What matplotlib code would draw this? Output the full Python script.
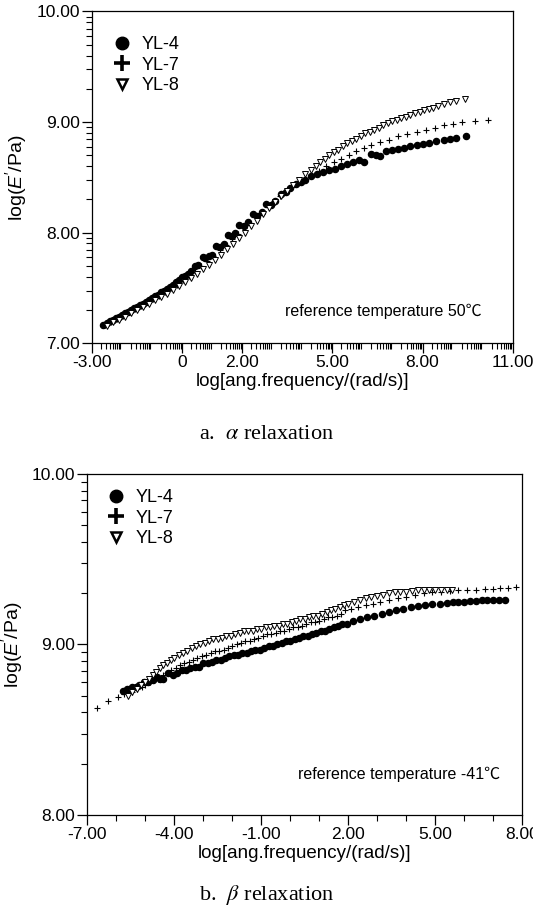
import numpy as np
import matplotlib
matplotlib.use("Agg")
import matplotlib.pyplot as plt
from matplotlib.lines import Line2D

plt.rcParams['font.family'] = ['Liberation Sans', 'Noto Sans CJK SC', 'DejaVu Sans']
plt.rcParams['mathtext.fontset'] = 'custom'
plt.rcParams['mathtext.rm'] = 'Liberation Sans'
plt.rcParams['mathtext.it'] = 'Liberation Sans:italic'

# ---- panel a: alpha relaxation (reference temperature 50 C) ----
a_yl4_x = [-2.62, -2.5, -2.4, -2.3, -2.2, -2.1, -2.0, -1.9, -1.8, -1.7, -1.6, -1.5, -1.4, -1.3,
           -1.2, -1.1, -1.0, -0.9, -0.8, -0.7, -0.6, -0.5, -0.4, -0.3, -0.2, -0.1, 0.0, 0.1,
           0.2, 0.3, 0.42, 0.55, 0.7, 0.78, 0.9, 1.0, 1.12, 1.25, 1.4, 1.52, 1.65, 1.78, 1.9,
           2.05, 2.2, 2.38, 2.5, 2.65, 2.8, 2.95, 3.1, 3.3, 3.45, 3.6, 3.8, 3.95, 4.1, 4.3,
           4.5, 4.7, 4.9, 5.1, 5.3, 5.5, 5.7, 5.9, 6.05, 6.3, 6.45, 6.6, 6.8, 7.0, 7.2, 7.4,
           7.6, 7.8, 8.0, 8.2, 8.45, 8.7, 8.9, 9.1, 9.45]
a_yl4_y = [7.17, 7.185, 7.20, 7.21, 7.225, 7.24, 7.255, 7.27, 7.285, 7.30, 7.315, 7.33, 7.345, 7.36,
           7.375, 7.39, 7.41, 7.425, 7.44, 7.46, 7.475, 7.495, 7.51, 7.53, 7.55, 7.57, 7.60, 7.61,
           7.63, 7.655, 7.70, 7.71, 7.78, 7.77, 7.79, 7.80, 7.88, 7.87, 7.90, 7.98, 7.97, 8.00, 8.07,
           8.06, 8.10, 8.17, 8.15, 8.19, 8.26, 8.25, 8.29, 8.35, 8.37, 8.40, 8.44, 8.46, 8.48, 8.51,
           8.53, 8.55, 8.57, 8.58, 8.60, 8.62, 8.64, 8.66, 8.64, 8.71, 8.70, 8.69, 8.74, 8.75, 8.76, 8.77,
           8.78, 8.79, 8.80, 8.81, 8.83, 8.84, 8.845, 8.86, 8.87]

a_yl7_x = [-2.55, -2.35, -2.15, -1.95, -1.75, -1.55, -1.35, -1.15, -0.95, -0.75, -0.55, -0.35, -0.15,
           0.05, 0.25, 0.45, 0.65, 0.85, 1.05, 1.25, 1.45, 1.65, 1.85, 2.05, 2.25, 2.45, 2.65, 2.85,
           3.05, 3.25, 3.45, 3.65, 3.85, 4.05, 4.3, 4.55, 4.8, 5.05, 5.3, 5.55, 5.8, 6.05, 6.3, 6.6,
           6.9, 7.2, 7.5, 7.8, 8.1, 8.4, 8.7, 9.0, 9.3, 9.75, 10.19]
a_yl7_y = [7.17, 7.19, 7.22, 7.25, 7.28, 7.31, 7.34, 7.37, 7.40, 7.43, 7.46, 7.50, 7.53,
           7.57, 7.61, 7.65, 7.70, 7.74, 7.79, 7.84, 7.89, 7.94, 7.99, 8.04, 8.09, 8.14, 8.19, 8.24,
           8.29, 8.33, 8.37, 8.41, 8.45, 8.48, 8.52, 8.56, 8.60, 8.64, 8.67, 8.70, 8.74, 8.77, 8.79, 8.82,
           8.84, 8.87, 8.89, 8.91, 8.93, 8.95, 8.97, 8.98, 9.00, 9.01, 9.02]

a_yl8_x = [-2.5, -2.3, -2.1, -1.9, -1.7, -1.5, -1.3, -1.1, -0.9, -0.7, -0.5, -0.3, -0.1, 0.1, 0.3,
           0.5, 0.7, 0.9, 1.1, 1.3, 1.5, 1.7, 1.9, 2.1, 2.3, 2.5, 2.7, 2.9, 3.1, 3.3, 3.5, 3.7, 3.9,
           4.1, 4.3, 4.45, 4.6, 4.75, 4.9, 5.05, 5.2, 5.35, 5.5, 5.65, 5.8, 5.95, 6.1, 6.25, 6.4,
           6.55, 6.7, 6.85, 7.0, 7.15, 7.3, 7.45, 7.6, 7.75, 7.9, 8.05, 8.2, 8.35, 8.5, 8.7, 8.9,
           9.1, 9.4]
a_yl8_y = [7.16, 7.19, 7.21, 7.24, 7.27, 7.30, 7.33, 7.36, 7.39, 7.42, 7.45, 7.48, 7.52, 7.55, 7.59,
           7.63, 7.67, 7.71, 7.75, 7.80, 7.85, 7.90, 7.95, 8.00, 8.06, 8.11, 8.17, 8.22, 8.28, 8.33, 8.38,
           8.43, 8.48, 8.53, 8.57, 8.60, 8.64, 8.67, 8.70, 8.73, 8.75, 8.78, 8.81, 8.83, 8.85, 8.87,
           8.90, 8.91, 8.93, 8.95, 8.97, 8.99, 9.01, 9.02, 9.04, 9.05, 9.06, 9.08, 9.09, 9.11, 9.12,
           9.13, 9.15, 9.16, 9.18, 9.19, 9.21]

# ---- panel b: beta relaxation (reference temperature -41 C), (x, y) pairs ----
b_yl4 = [(-5.77, 8.73), (-5.62, 8.74), (-5.47, 8.75), (-5.32, 8.75), (-5.2, 8.76), (-5.05, 8.78),
         (-4.9, 8.78), (-4.75, 8.79), (-4.6, 8.81), (-4.5, 8.80), (-4.38, 8.80), (-4.2, 8.83),
         (-4.05, 8.82), (-3.9, 8.83), (-3.75, 8.85), (-3.6, 8.85), (-3.45, 8.86), (-3.3, 8.87),
         (-3.15, 8.87), (-3.0, 8.89), (-2.85, 8.89), (-2.7, 8.90), (-2.55, 8.91), (-2.4, 8.91),
         (-2.25, 8.92), (-2.1, 8.93), (-1.95, 8.94), (-1.8, 8.94), (-1.65, 8.95), (-1.5, 8.95),
         (-1.35, 8.96), (-1.2, 8.97), (-1.05, 8.97), (-0.9, 8.98), (-0.75, 8.99), (-0.6, 8.99),
         (-0.45, 9.00), (-0.3, 9.01), (-0.15, 9.02), (0.0, 9.02), (0.15, 9.03), (0.3, 9.04),
         (0.45, 9.05), (0.6, 9.05), (0.75, 9.06), (0.9, 9.07), (1.05, 9.08), (1.2, 9.08),
         (1.35, 9.09), (1.5, 9.10), (1.65, 9.11), (1.8, 9.12), (1.95, 9.12), (2.15, 9.14),
         (2.4, 9.15), (2.65, 9.16), (2.9, 9.17), (3.15, 9.18), (3.4, 9.19), (3.65, 9.20),
         (3.9, 9.21), (4.15, 9.22), (4.4, 9.225), (4.65, 9.23), (4.9, 9.235), (5.15, 9.24),
         (5.4, 9.245), (5.6, 9.25), (5.8, 9.25), (6.0, 9.25), (6.2, 9.255), (6.4, 9.255),
         (6.6, 9.26), (6.8, 9.26), (7.0, 9.26), (7.2, 9.26), (7.4, 9.26)]

b_yl7 = [(-6.67, 8.63), (-6.3, 8.67), (-5.94, 8.69), (-5.75, 8.71), (-5.59, 8.72), (-5.45, 8.72),
         (-5.3, 8.74), (-5.12, 8.75), (-5.0, 8.76), (-4.85, 8.78), (-4.7, 8.79), (-4.55, 8.80),
         (-4.4, 8.82), (-4.25, 8.83), (-4.1, 8.85), (-3.95, 8.86), (-3.8, 8.88), (-3.65, 8.89),
         (-3.5, 8.90), (-3.35, 8.91), (-3.2, 8.92), (-3.05, 8.93), (-2.9, 8.94), (-2.75, 8.95),
         (-2.6, 8.96), (-2.45, 8.96), (-2.3, 8.97), (-2.15, 8.98), (-2.0, 8.99), (-1.85, 9.00),
         (-1.7, 9.01), (-1.55, 9.02), (-1.4, 9.02), (-1.25, 9.03), (-1.1, 9.04), (-0.95, 9.05),
         (-0.8, 9.06), (-0.65, 9.06), (-0.5, 9.07), (-0.35, 9.08), (-0.2, 9.08), (-0.05, 9.09),
         (0.1, 9.10), (0.25, 9.10), (0.4, 9.11), (0.55, 9.12), (0.7, 9.13), (0.85, 9.13),
         (1.0, 9.14), (1.15, 9.15), (1.3, 9.16), (1.45, 9.16), (1.6, 9.17), (1.75, 9.18),
         (1.9, 9.20), (2.1, 9.21), (2.35, 9.22), (2.6, 9.23), (2.85, 9.24), (3.1, 9.25),
         (3.4, 9.26), (3.7, 9.27), (4.0, 9.28), (4.3, 9.29), (4.6, 9.30), (4.9, 9.305),
         (5.2, 9.31), (5.5, 9.315), (5.8, 9.32), (6.1, 9.32), (6.4, 9.32), (6.7, 9.325),
         (7.0, 9.325), (7.25, 9.33), (7.5, 9.33), (7.8, 9.335)]

b_yl8 = [(-5.59, 8.70), (-5.45, 8.72), (-5.3, 8.74), (-5.15, 8.76), (-5.0, 8.78), (-4.88, 8.80),
         (-4.75, 8.82), (-4.62, 8.84), (-4.5, 8.86), (-4.38, 8.88), (-4.25, 8.89), (-4.12, 8.91),
         (-4.0, 8.92), (-3.85, 8.94), (-3.7, 8.95), (-3.55, 8.96), (-3.4, 8.98), (-3.25, 8.99),
         (-3.1, 9.00), (-2.95, 9.01), (-2.8, 9.02), (-2.65, 9.03), (-2.5, 9.03), (-2.35, 9.04),
         (-2.2, 9.05), (-2.05, 9.05), (-1.9, 9.06), (-1.75, 9.07), (-1.6, 9.08), (-1.45, 9.08),
         (-1.3, 9.08), (-1.15, 9.09), (-1.0, 9.09), (-0.85, 9.10), (-0.7, 9.10), (-0.55, 9.11),
         (-0.4, 9.11), (-0.25, 9.12), (-0.1, 9.12), (0.05, 9.13), (0.2, 9.14), (0.35, 9.15),
         (0.5, 9.15), (0.65, 9.16), (0.8, 9.17), (0.95, 9.17), (1.1, 9.18), (1.25, 9.19),
         (1.4, 9.20), (1.55, 9.21), (1.7, 9.22), (1.85, 9.23), (2.0, 9.24), (2.2, 9.25),
         (2.4, 9.26), (2.6, 9.27), (2.8, 9.28), (3.0, 9.285), (3.2, 9.29), (3.4, 9.30),
         (3.6, 9.305), (3.8, 9.31), (4.0, 9.31), (4.2, 9.315), (4.4, 9.32), (4.6, 9.32),
         (4.8, 9.32), (5.0, 9.32), (5.2, 9.32), (5.4, 9.32), (5.57, 9.32)]

labels = ['YL-4', 'YL-7', 'YL-8']
a_xticks = [-3, 0, 2, 5, 8, 11]
a_xticklabels = ['-3.00', '0', '2.00', '5.00', '8.00', '11.00']
a_yticks = [7, 8, 9, 10]
b_xticks = [-7, -4, -1, 2, 5, 8]
b_xticklabels = ['-7.00', '-4.00', '-1.00', '2.00', '5.00', '8.00']
b_yticks = [8, 9, 10]

FS = 12.5


def log_minors(lo, hi):
    # sigmaplot style minor ticks: k + log10(m) inside every unit
    out = []
    for k in range(lo, hi):
        for m in range(2, 10):
            out.append(k + np.log10(m))
    return out


def draw_series(ax, xs, ys):
    ax.plot(xs[0], ys[0], 'o', ms=4.4, color='black', mec='black', ls='none')
    ax.plot(xs[1], ys[1], '+', ms=4.6, mew=0.8, color='black', ls='none')
    ax.plot(xs[2], ys[2], 'v', ms=3.7, mfc='white', mec='black', mew=0.7, ls='none')


def add_legend(ax, anchor):
    handles = [Line2D([], [], marker='o', ms=9, color='black', ls='none'),
               Line2D([], [], marker='+', ms=11, mew=2.6, color='black', ls='none'),
               Line2D([], [], marker='v', ms=7.5, mfc='white', mec='black', mew=1.8, ls='none')]
    ax.legend(handles, labels, loc='upper left', bbox_to_anchor=anchor, frameon=False,
              fontsize=13, handlelength=1.0, handletextpad=0.6, labelspacing=0.18,
              borderpad=0, borderaxespad=0)


def style_axes(ax):
    ax.tick_params(axis='both', which='major', direction='out', length=7, width=0.9,
                   labelsize=FS, pad=1.5)
    ax.tick_params(axis='both', which='minor', direction='out', length=4, width=0.8)
    for s in ax.spines.values():
        s.set_linewidth(0.9)
    ax.set_ylabel(r"log($E'$/Pa)", fontsize=14, labelpad=5)
    ax.set_xlabel('log[ang.frequency/(rad/s)]', fontsize=13.5, labelpad=2)


fig = plt.figure(figsize=(5.33, 9.19), dpi=100)

# panel a
ax1 = fig.add_axes([0.172, 0.6264, 0.790, 0.3611])
draw_series(ax1, [a_yl4_x, a_yl7_x, a_yl8_x], [a_yl4_y, a_yl7_y, a_yl8_y])
ax1.set_xlim(-3, 11)
ax1.set_ylim(7, 10)
ax1.set_xticks(a_xticks)
ax1.set_xticklabels(a_xticklabels)
ax1.set_xticks(log_minors(-3, 11), minor=True)
ax1.set_yticks(a_yticks)
ax1.set_yticklabels(['%.2f' % v for v in a_yticks])
ax1.set_yticks(log_minors(7, 10), minor=True)
style_axes(ax1)
add_legend(ax1, (0.05, 0.925))
ax1.text(0.925, 0.095, 'reference temperature 50\u2103', transform=ax1.transAxes,
         ha='right', va='center', fontsize=11.5)

# panel b
ax2 = fig.add_axes([0.1638, 0.1132, 0.816, 0.371])
bx = [[p[0] for p in s] for s in (b_yl4, b_yl7, b_yl8)]
by = [[p[1] for p in s] for s in (b_yl4, b_yl7, b_yl8)]
draw_series(ax2, bx, by)
ax2.set_xlim(-7, 8)
ax2.set_ylim(8, 10)
ax2.set_xticks(b_xticks)
ax2.set_xticklabels(b_xticklabels)
ax2.set_xticks([v for v in range(-7, 9) if v not in b_xticks], minor=True)
ax2.set_yticks(b_yticks)
ax2.set_yticklabels(['%.2f' % v for v in b_yticks])
ax2.set_yticks(log_minors(8, 10), minor=True)
style_axes(ax2)
add_legend(ax2, (0.045, 0.955))
ax2.text(0.95, 0.12, 'reference temperature -41\u2103', transform=ax2.transAxes,
         ha='right', va='center', fontsize=11.5)

# captions
fig.text(0.5, 1 - 435 / 919, r'a.  $\alpha$ relaxation', ha='center', va='center',
         fontsize=16, family='Liberation Serif', math_fontfamily='stix')
fig.text(0.5, 1 - 895 / 919, r'b.  $\beta$ relaxation', ha='center', va='center',
         fontsize=16, family='Liberation Serif', math_fontfamily='stix')

fig.savefig('out.png', dpi=100)
